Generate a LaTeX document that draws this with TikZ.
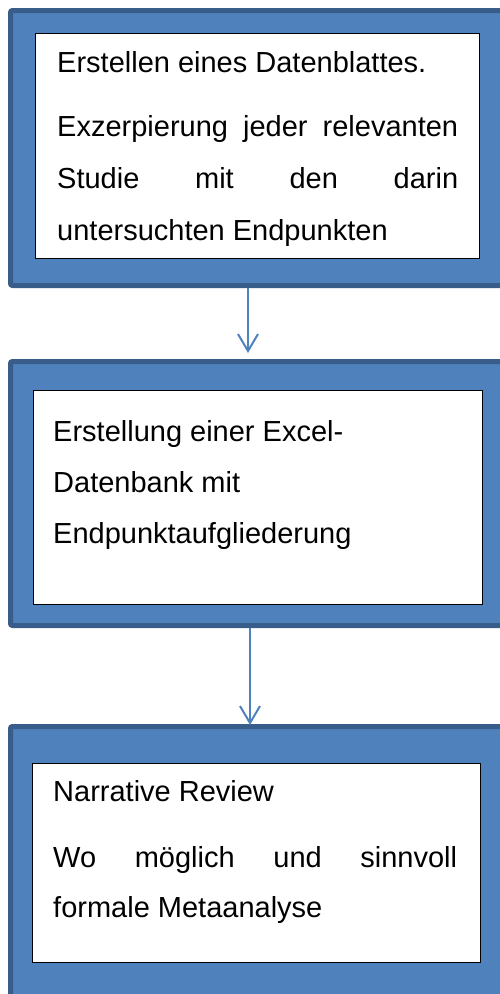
\documentclass[tikz,border=0pt]{standalone}
\usepackage{fontspec}
\setmainfont{Liberation Sans}
\usetikzlibrary{arrows.meta}
\definecolor{fblue}{RGB}{79,129,189}
\definecolor{fdark}{RGB}{56,93,138}
\begin{document}
\begin{tikzpicture}[x=1pt,y=-1pt,
  frame/.style={draw=fdark,fill=fblue,line width=5pt,rounded corners=2pt,outer sep=2.5pt,inner sep=0pt},
  innerbox/.style={draw=black,fill=white,line width=1pt,inner sep=0pt},
  txt/.style={anchor=base west,inner sep=0pt,font=\fontsize{29}{34}\selectfont},
  arr/.style={draw=fblue,line width=2pt,-{Straight Barb[length=17pt,width=20pt]}}]
\useasboundingbox (0,0) rectangle (500,994);
\begin{scope}
\clip (0,0) rectangle (500,994);
% frames
\node[frame,minimum width=509.5pt,minimum height=275pt] (f1) at (265.25,148) {};
\node[frame,minimum width=509.5pt,minimum height=264pt] (f2) at (265.25,493.5) {};
\node[frame,minimum width=509.5pt,minimum height=283.5pt] (f3) at (265.25,868.25) {};
% inner boxes
\node[innerbox,minimum width=444pt,minimum height=225pt] (b1) at (257,145.5) {};
\node[innerbox,minimum width=449pt,minimum height=214pt] (b2) at (257.5,497) {};
\node[innerbox,minimum width=448pt,minimum height=199pt] (b3) at (256,862.5) {};
% texts box 1
\node[txt] (t11) at (57,72.5) {Erstellen eines Datenblattes.};
\node[txt] (t12) at (57,136) {\makebox[401pt][s]{Exzerpierung jeder relevanten}};
\node[txt] (t13) at (57,188) {\makebox[401pt][s]{Studie mit den darin}};
\node[txt] (t14) at (57,240) {untersuchten Endpunkten};
% texts box 2
\node[txt] (t21) at (53,441.5) {Erstellung einer Excel-};
\node[txt] (t22) at (53,492) {Datenbank mit};
\node[txt] (t23) at (53,543.5) {Endpunktaufgliederung};
% texts box 3
\node[txt] (t31) at (53,801) {Narrative Review};
\node[txt] (t32) at (53,867) {\makebox[404pt][s]{Wo möglich und sinnvoll}};
\node[txt] (t33) at (53,917) {formale Metaanalyse};
% arrows
\coordinate (tip1) at (248,353);
\coordinate (tip2) at (250,725);
\draw[arr] (tip1 |- f1.south) -- (tip1);
\draw[arr] (tip2 |- f2.south) -- (tip2);
\end{scope}
\end{tikzpicture}
\end{document}
